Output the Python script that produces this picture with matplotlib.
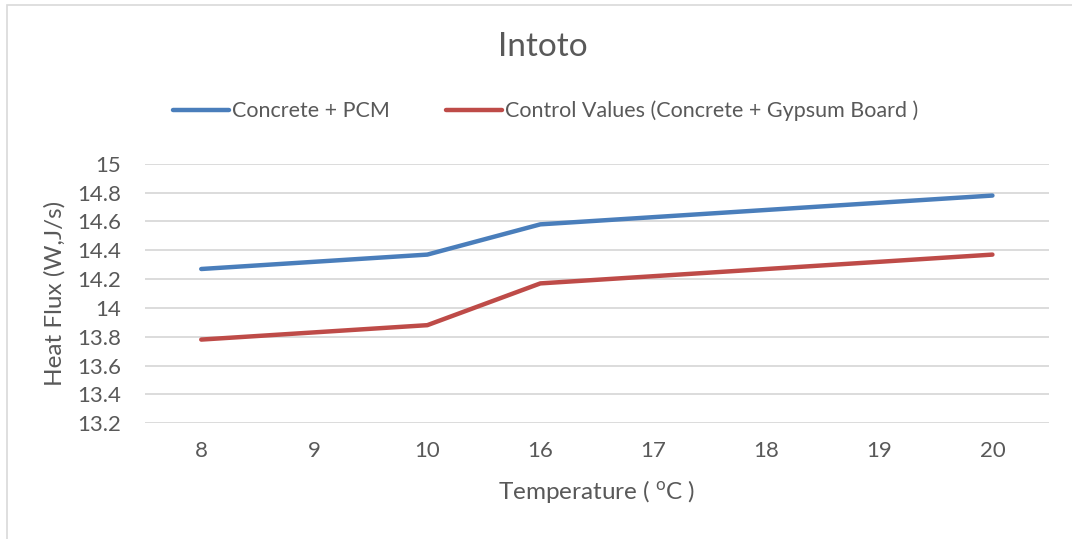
import numpy as np
import matplotlib.pyplot as plt
from matplotlib.patches import Rectangle

# data
temps = ['8', '9', '10', '16', '17', '18', '19', '20']
pcm = [14.27, 14.32, 14.37, 14.58, 14.63, 14.68, 14.73, 14.78]
control = [13.78, 13.83, 13.88, 14.17, 14.22, 14.27, 14.32, 14.37]
yticks = [13.2, 13.4, 13.6, 13.8, 14, 14.2, 14.4, 14.6, 14.8, 15]

plt.rcParams['font.family'] = ['Lato', 'DejaVu Sans']
plt.rcParams['mathtext.default'] = 'regular'
grey = '#595959'

fig = plt.figure(figsize=(10.72, 5.39), dpi=100)
ax = fig.add_axes([0.135, 0.215, 0.8435, 0.481])

x = np.arange(len(temps))
ax.plot(x, pcm, color='#4a7ebb', lw=3.2, solid_capstyle='round', label='Concrete + PCM')
ax.plot(x, control, color='#be4b48', lw=3.2, solid_capstyle='round',
        label='Control Values (Concrete + Gypsum Board )')

ax.set_xlim(-0.5, len(temps) - 0.5)
ax.set_ylim(13.2, 15)
ax.set_xticks(x)
ax.set_xticklabels(temps)
ax.set_yticks(yticks)
ax.set_yticklabels([f'{v:g}' for v in yticks])
ax.tick_params(length=0, labelsize=16, colors=grey)
ax.tick_params(axis='x', pad=13)
ax.tick_params(axis='y', pad=17)
ax.grid(axis='y', color='#d9d9d9', lw=1.3)
ax.set_axisbelow(True)
for s in ax.spines.values():
    s.set_visible(False)

ax.set_xlabel('Temperature ( $^{o}$C )', fontsize=17.5, color=grey, labelpad=12)
ax.set_ylabel('Heat Flux (W,J/s)', fontsize=17.5, color=grey, labelpad=8)
fig.text(0.506, 0.913, 'Intoto', fontsize=24, color=grey, ha='center', va='center')

fig.legend(loc='center', bbox_to_anchor=(0.509, 0.794), ncol=2, frameon=False,
           fontsize=15.5, labelcolor=grey, handlelength=2.6, handletextpad=0.15,
           columnspacing=2.6)

# light frame around the chart
fig.add_artist(Rectangle((7 / 1072, -0.1), 1.2, 1.1 - 5 / 539, transform=fig.transFigure,
                         fill=False, edgecolor='#d9d9d9', lw=1.2))

plt.savefig('out.png', dpi=100)
